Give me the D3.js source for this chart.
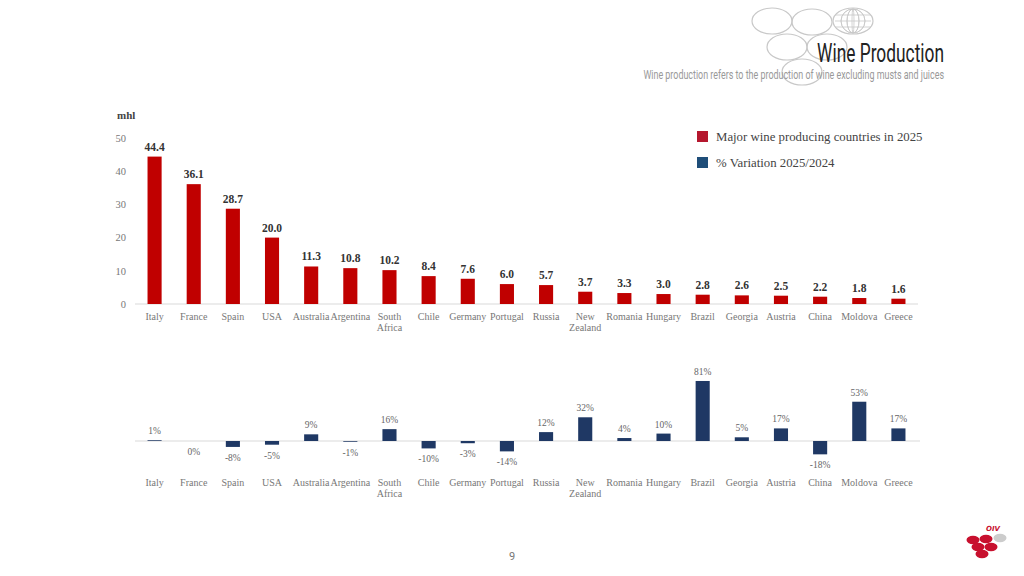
<!DOCTYPE html>
<html><head><meta charset="utf-8">
<script src="https://cdn.jsdelivr.net/npm/d3@7/dist/d3.min.js"></script>
<style>
html,body{margin:0;padding:0;background:#fff;}
svg{display:block;}
</style></head>
<body>
<svg id="c" width="1024" height="576"></svg>
<script>
const countries = ["Italy","France","Spain","USA","Australia","Argentina","South Africa","Chile","Germany","Portugal","Russia","New Zealand","Romania","Hungary","Brazil","Georgia","Austria","China","Moldova","Greece"];
const production = [44.4,36.1,28.7,20.0,11.3,10.8,10.2,8.4,7.6,6.0,5.7,3.7,3.3,3.0,2.8,2.6,2.5,2.2,1.8,1.6];
const variation = [1,0,-8,-5,9,-1,16,-10,-3,-14,12,32,4,10,81,5,17,-18,53,17];
const yTicks = [0,10,20,30,40,50];
const legendLabels = ["Major wine producing countries in 2025","% Variation 2025/2024"];

const serif = "'Liberation Serif','DejaVu Serif',serif";
const narrow = "'Roboto','Liberation Sans',sans-serif";
const svg = d3.select("#c");

// Header decoration
const deco = svg.append("g").attr("fill","none").attr("stroke","#c8c8c8").attr("stroke-width",1.2);
[[772,21],[812,22],[853,21],[787,47],[827,47],[802,72]].forEach(([cx,cy])=>{
  deco.append("ellipse").attr("cx",cx).attr("cy",cy).attr("rx",20).attr("ry",13);
});
[-12,-6,0,6,12].forEach(dx=>{
  deco.append("ellipse").attr("cx",853).attr("cy",21).attr("rx",Math.abs(dx)===12?6:(dx===0?1:12)).attr("ry",12).attr("stroke-width",0.8);
});
[-6,0,6].forEach(dy=>{
  deco.append("line").attr("x1",835).attr("x2",871).attr("y1",21+dy).attr("y2",21+dy).attr("stroke-width",0.8);
});

function condensedText(str, xr, yb, size, color, width){
  const g = svg.append("g");
  const t = g.append("text").attr("x",0).attr("y",0).attr("text-anchor","end")
    .attr("font-family",narrow).attr("font-size",size).attr("fill",color).text(str);
  const w = t.node().getComputedTextLength() || width;
  g.attr("transform",`translate(${xr},${yb}) scale(${width/w},1)`);
}
condensedText("Wine Production", 944, 62, 25, "#222", 127);
condensedText("Wine production refers to the production of wine excluding musts and juices", 944, 79, 12, "#999", 301);

// Scales
const x = d3.scaleBand().domain(countries).range([135,918]).paddingInner(0.64).paddingOuter(0.32);
const y = d3.scaleLinear().domain([0,50]).range([304,138]);
const y2 = d3.scaleLinear().domain([-20,90]).range([441+20*0.741,441-90*0.741]);

// Top chart
svg.append("text").attr("x",117).attr("y",119).attr("font-family",serif).attr("font-weight","bold")
  .attr("font-size",11).attr("fill","#444").text("mhl");

const yAxis = d3.axisLeft(y).tickValues(yTicks).tickSize(0).tickPadding(0);
const ga = svg.append("g").attr("transform","translate(126,0)").call(yAxis);
ga.select(".domain").remove();
ga.selectAll("text").attr("font-family",serif).attr("font-size",10.5).attr("fill","#777");

svg.append("line").attr("x1",135).attr("x2",918).attr("y1",y(0)).attr("y2",y(0)).attr("stroke","#d9d9d9").attr("stroke-width",1);

svg.append("g").selectAll("rect").data(production).join("rect")
  .attr("x",(d,i)=>x(countries[i])).attr("width",x.bandwidth())
  .attr("y",d=>y(d)).attr("height",d=>y(0)-y(d)).attr("fill","#c00000");

svg.append("g").selectAll("text").data(production).join("text")
  .attr("x",(d,i)=>x(countries[i])+x.bandwidth()/2).attr("y",d=>y(d)-6)
  .attr("text-anchor","middle").attr("font-family",serif).attr("font-weight","bold")
  .attr("font-size",11.5).attr("fill","#333").text(d=>d.toFixed(1));

function catLabels(yy){
  const g = svg.append("g");
  countries.forEach(c=>{
    const words = c.split(" ");
    const t = g.append("text").attr("x",x(c)+x.bandwidth()/2).attr("y",yy)
      .attr("text-anchor","middle").attr("font-family",serif).attr("font-size",10).attr("fill","#777");
    words.forEach((w,k)=>t.append("tspan").attr("x",x(c)+x.bandwidth()/2).attr("dy",k?11:0).text(w));
  });
}
catLabels(320);

// Legend
const legColors = ["#b5172e","#1f4e79"];
legendLabels.forEach((l,i)=>{
  svg.append("rect").attr("x",697).attr("y",131+i*26).attr("width",11).attr("height",11).attr("fill",legColors[i]);
  svg.append("text").attr("x",716).attr("y",141+i*26).attr("font-family",serif).attr("font-size",12.8)
    .attr("fill","#444").text(l);
});

// Bottom chart
svg.append("line").attr("x1",135).attr("x2",920).attr("y1",y2(0)).attr("y2",y2(0)).attr("stroke","#d9d9d9").attr("stroke-width",1);
svg.append("g").selectAll("rect").data(variation).join("rect")
  .attr("x",(d,i)=>x(countries[i])).attr("width",x.bandwidth())
  .attr("y",d=>y2(Math.max(0,d))).attr("height",d=>Math.abs(y2(d)-y2(0)))
  .attr("fill","#1f3864");
svg.append("g").selectAll("text").data(variation).join("text")
  .attr("x",(d,i)=>x(countries[i])+x.bandwidth()/2)
  .attr("y",d=>d>0 ? y2(d)-6 : y2(Math.min(d,0))+14)
  .attr("text-anchor","middle").attr("font-family",serif).attr("font-size",9.5).attr("fill","#666")
  .text(d=>(d<0?"-"+Math.abs(d):d)+"%");
catLabels(486);

// Page number
svg.append("text").attr("x",512).attr("y",560).attr("text-anchor","middle").attr("font-family",narrow)
  .attr("font-size",11).attr("fill","#777").text("9");

// OIV logo
const logo = svg.append("g");
[[973,540],[986,539],[978,547],[991,547],[982,554]].forEach(([cx,cy])=>{
  logo.append("ellipse").attr("cx",cx).attr("cy",cy).attr("rx",6.5).attr("ry",4.2).attr("fill","#c8102e");
});
logo.append("ellipse").attr("cx",1000).attr("cy",538).attr("rx",6.5).attr("ry",4.2).attr("fill","#ccc");
logo.append("text").attr("x",993).attr("y",531).attr("text-anchor","middle").attr("font-family","'DejaVu Sans',sans-serif")
  .attr("font-style","italic").attr("font-weight","bold").attr("font-size",7).attr("fill","#c8102e").text("OIV");
</script>
</body></html>
